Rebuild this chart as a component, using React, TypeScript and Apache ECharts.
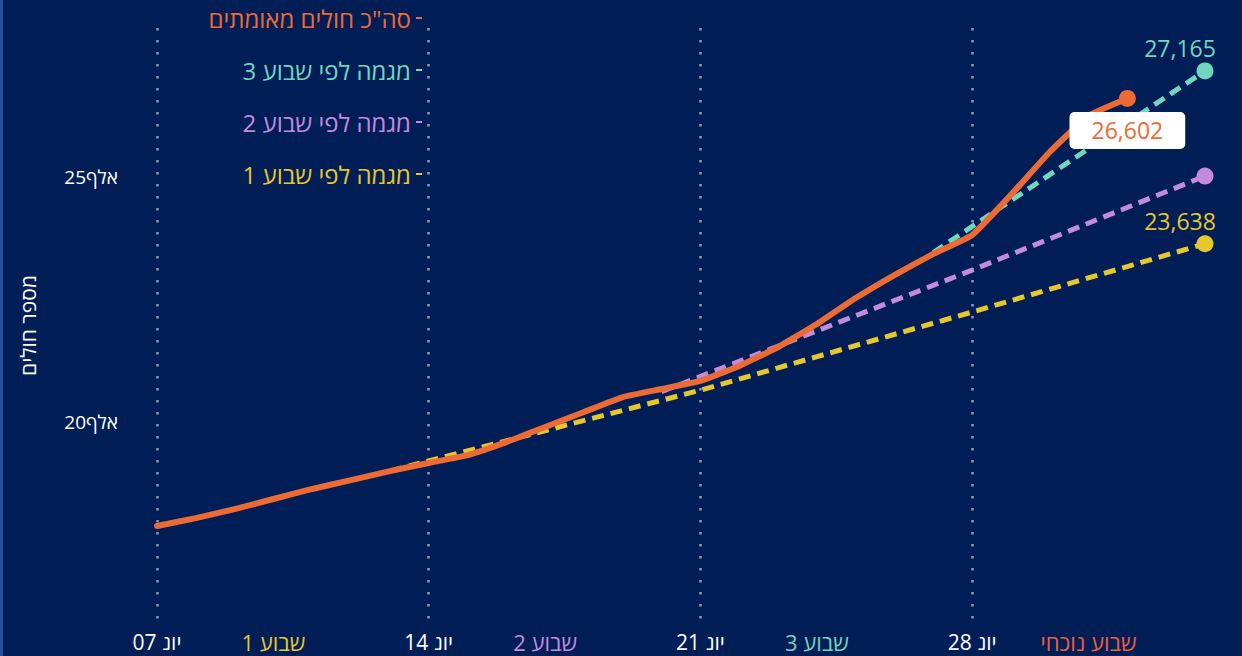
import React, { useEffect, useRef } from 'react';
import * as echarts from 'echarts';

// Categories: days from Jun 07 to Jul 04
const dates = [
  '06-07', '06-08', '06-09', '06-10', '06-11', '06-12', '06-13',
  '06-14', '06-15', '06-16', '06-17', '06-18', '06-19', '06-20',
  '06-21', '06-22', '06-23', '06-24', '06-25', '06-26', '06-27',
  '06-28', '06-29', '06-30', '07-01', '07-02', '07-03', '07-04',
];

// Total confirmed cases (Jun 07 .. Jul 02)
const confirmed = [
  17880, 18040, 18225, 18430, 18635, 18815, 19000,
  19165, 19325, 19590, 19900, 20205, 20510, 20675,
  20840, 21145, 21530, 22000, 22530, 23000, 23430,
  23815, 24635, 25510, 26250, 26602,
];

// Trend projections: [day index, value]
const trendWeek1: [number, number][] = [[6, 19000], [14, 20650], [21, 22245], [27, 23638]];
const trendWeek2: [number, number][] = [[13, 20620], [21, 23100], [27, 25020]];
const trendWeek3: [number, number][] = [[20, 23460], [27, 27165]];

const dateTickIdx = [0, 7, 14, 21];
const dateTickText = ['יונ 07', 'יונ 14', 'יונ 21', 'יונ 28'];
const weekTickIdx = [3, 10, 17, 24];
const weekTickText = ['שבוע 1', 'שבוע 2', 'שבוע 3', 'שבוע נוכחי'];
const weekTickStyle = ['w1', 'w2', 'w3', 'w4'];

const yLabelValues = [20000, 25000];

const seriesNames = ['סה"כ חולים מאומתים', 'מגמה לפי שבוע 3', 'מגמה לפי שבוע 2', 'מגמה לפי שבוע 1'];

const C_ORANGE = '#ec6b34';
const C_TEAL = '#70d6c0';
const C_PURPLE = '#c48bdc';
const C_YELLOW = '#e7c72e';
const C_CURRENT = '#ee5f3f';
const BG = '#011e56';
const FONT = "'Open Sans', 'Liberation Sans', 'DejaVu Sans', sans-serif";

function lastPointed(points: [number, number][], color: string, showLabel: boolean) {
  return points.map((p, i) => {
    if (i !== points.length - 1) return p;
    return {
      value: p,
      symbol: 'circle',
      symbolSize: 17,
      label: showLabel
        ? {
            show: true,
            position: 'top',
            distance: 3,
            offset: [-25, 0],
            color,
            fontSize: 23,
            fontFamily: FONT,
            formatter: (prm: any) => Number(prm.value[1]).toLocaleString('en-US'),
          }
        : { show: false },
    };
  });
}

export default function App() {
  const ref = useRef<HTMLDivElement>(null);

  useEffect(() => {
    if (!ref.current) return;
    const chart = echarts.init(ref.current, undefined, { renderer: 'svg' });

    const dashed = (name: string, color: string, pts: [number, number][], showLabel: boolean) => ({
      name,
      type: 'line',
      color,
      data: lastPointed(pts, color, showLabel),
      symbol: 'none',
      showSymbol: true,
      lineStyle: { color, width: 5, type: [12, 7] },
      itemStyle: { color },
      z: 3,
    });

    const confirmedData: any[] = confirmed.map((v, i) =>
      i === confirmed.length - 1
        ? {
            value: v,
            symbol: 'circle',
            symbolSize: 17,
            label: {
              show: true,
              position: 'bottom',
              distance: 5,
              backgroundColor: '#ffffff',
              borderRadius: 5,
              padding: [7, 22, 7, 22],
              color: C_ORANGE,
              fontSize: 23,
              fontFamily: FONT,
              formatter: (prm: any) => Number(prm.value).toLocaleString('en-US'),
            },
          }
        : v
    );

    const rich: any = {
      d: { color: '#ffffff', fontSize: 21, fontFamily: FONT },
      w1: { color: C_YELLOW, fontSize: 22, fontFamily: FONT },
      w2: { color: C_PURPLE, fontSize: 22, fontFamily: FONT },
      w3: { color: C_TEAL, fontSize: 22, fontFamily: FONT },
      w4: { color: C_CURRENT, fontSize: 22, fontFamily: FONT },
    };

    chart.setOption({
      animation: false,
      backgroundColor: BG,
      textStyle: { fontFamily: FONT },
      graphic: [
        { type: 'rect', left: 0, top: 0, shape: { width: 3, height: 656 }, style: { fill: '#2b4d9c' }, silent: true },
      ],
      grid: { left: 157, right: 37, top: 28, bottom: 33 },
      legend: {
        orient: 'vertical',
        right: 815,
        top: 1,
        align: 'right',
        itemGap: 28,
        itemWidth: 6,
        itemHeight: 2,
        icon: 'rect',
        data: [
          { name: seriesNames[0], textStyle: { color: C_ORANGE } },
          { name: seriesNames[1], textStyle: { color: C_TEAL } },
          { name: seriesNames[2], textStyle: { color: C_PURPLE } },
          { name: seriesNames[3], textStyle: { color: C_YELLOW } },
        ],
        textStyle: { fontSize: 24, fontFamily: FONT },
      },
      xAxis: {
        type: 'category',
        data: dates,
        boundaryGap: false,
        axisLine: { show: false },
        axisTick: { show: false },
        axisLabel: {
          interval: 0,
          margin: 8,
          rich,
          formatter: (_v: string, idx: number) => {
            const di = dateTickIdx.indexOf(idx);
            if (di >= 0) return `{d|${dateTickText[di]}}`;
            const wi = weekTickIdx.indexOf(idx);
            if (wi >= 0) return `{${weekTickStyle[wi]}|${weekTickText[wi]}}`;
            return '';
          },
        },
        splitLine: {
          show: true,
          interval: (idx: number) => dateTickIdx.indexOf(idx) >= 0,
          lineStyle: { color: '#8e99b8', width: 2.5, type: [2.5, 9.5] },
        },
      },
      yAxis: {
        type: 'value',
        min: 15900,
        max: 28040,
        name: 'מספר חולים',
        nameLocation: 'middle',
        nameGap: 119,
        nameRotate: 90,
        nameTextStyle: { color: '#ffffff', fontSize: 21, fontFamily: FONT },
        axisLine: { show: false },
        axisTick: { show: false },
        splitLine: { show: false },
        axisLabel: {
          customValues: yLabelValues,
          color: '#ffffff',
          fontSize: 19,
          margin: 39,
          fontFamily: FONT,
          formatter: (v: number) => `${v / 1000}אלף`,
        },
      },
      series: [
        dashed(seriesNames[3], C_YELLOW, trendWeek1, true),
        dashed(seriesNames[2], C_PURPLE, trendWeek2, false),
        dashed(seriesNames[1], C_TEAL, trendWeek3, true),
        {
          name: seriesNames[0],
          type: 'line',
          color: C_ORANGE,
          data: confirmedData,
          symbol: 'none',
          showSymbol: true,
          smooth: 0.12,
          lineStyle: { color: C_ORANGE, width: 6, cap: 'round', join: 'round' },
          itemStyle: { color: C_ORANGE },
          z: 5,
        },
      ],
    });

    return () => chart.dispose();
  }, []);

  return <div ref={ref} style={{ position: 'fixed', left: 0, top: 0, width: 1242, height: 656 }} />;
}
